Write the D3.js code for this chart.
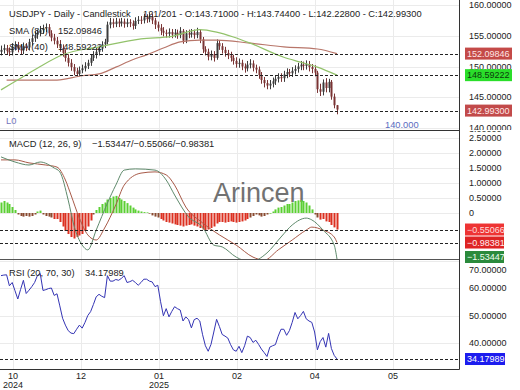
<!DOCTYPE html>
<html><head><meta charset="utf-8">
<script src="https://cdn.jsdelivr.net/npm/d3@7/dist/d3.min.js"></script>
<style>body{margin:0;background:#fff;}svg{display:block;font-family:"Liberation Sans",Arial,sans-serif;}</style>
</head><body><svg id="c" width="520" height="390"></svg>
<script>
// ---------- DATA ----------
const opens = [152.4,152.7,153.0,152.5,152.3,153.2,153.5,152.9,152.6,153.3,
153.1,154.0,154.6,155.1,155.5,155.9,156.2,156.4,155.4,154.7,
154.2,153.6,153.0,152.2,151.4,150.6,149.9,149.2,148.8,149.4,
149.7,150.1,150.6,151.4,151.9,152.4,152.9,153.6,154.0,156.8,
157.2,156.9,157.3,157.0,157.3,156.9,157.2,157.0,156.6,157.4,
157.6,157.5,158.0,157.7,158.1,157.5,156.8,156.3,155.8,155.5,
155.3,155.6,155.2,155.5,155.1,155.8,154.2,155.4,155.2,155.5,
155.1,155.6,154.4,152.8,152.4,151.6,152.0,151.4,153.8,153.3,
152.7,152.2,151.8,151.4,150.9,150.4,150.6,150.0,149.7,150.3,
150.5,149.8,149.5,148.6,147.8,147.3,146.9,147.2,147.6,148.0,
148.3,148.1,148.7,149.1,148.9,149.3,149.6,150.0,150.3,150.1,
150.4,149.9,149.6,149.0,146.3,145.9,147.4,146.5,147.5,145.1,
143.71];
const highs = [153.4,153.6,153.5,153.1,153.8,154.1,154.0,153.5,153.9,153.8,
154.5,155.2,155.7,156.0,156.6,156.8,157.0,156.9,155.9,155.3,
154.8,154.3,153.6,152.8,152.0,151.2,150.4,149.8,150.0,150.3,
150.7,151.1,151.9,152.5,153.0,153.4,154.1,154.5,157.3,157.9,
157.8,157.9,157.8,157.9,157.8,157.8,157.7,157.5,158.0,158.2,
158.2,158.6,158.5,158.8,158.6,157.9,157.3,156.9,156.4,156.0,
156.2,156.1,156.1,156.0,156.4,156.1,155.9,156.0,156.1,156.0,
156.3,156.0,154.8,153.3,152.9,152.6,152.5,154.4,154.3,153.8,
153.2,152.7,152.4,151.9,151.5,151.3,151.1,150.5,150.9,151.2,
151.0,150.3,150.0,149.1,148.3,147.8,147.8,148.2,148.6,148.9,
148.9,149.3,149.7,149.6,149.9,150.2,150.6,150.9,150.8,151.0,
150.9,150.4,150.2,149.3,147.2,147.9,148.1,148.0,147.8,145.6,
143.744];
const lows = [151.8,152.1,151.9,151.7,151.8,152.6,152.3,151.9,152.0,152.5,
152.6,153.4,154.0,154.5,154.9,155.3,155.6,154.9,154.1,153.6,
153.0,152.4,151.6,150.8,150.0,149.3,148.6,148.3,148.4,148.9,
149.2,149.6,150.1,150.9,151.3,151.8,152.4,153.0,153.6,156.2,
156.3,156.4,156.4,156.5,156.3,156.4,156.4,156.0,156.1,156.9,
156.9,157.0,157.1,157.2,156.9,156.1,155.7,155.1,154.9,154.7,
154.7,154.6,154.7,154.5,154.6,153.7,153.8,154.6,154.7,154.5,
154.6,153.8,152.2,151.8,151.0,151.0,150.8,151.1,152.7,152.1,
151.6,151.2,150.8,150.3,149.8,149.8,149.4,149.0,149.2,149.7,
149.2,148.9,148.0,147.2,146.6,146.3,146.3,146.6,147.0,147.4,
147.5,147.5,148.1,148.3,148.3,148.7,149.0,149.4,149.4,149.5,
149.2,148.9,148.4,145.7,145.2,145.3,145.8,145.8,144.6,143.2,
142.228];
const closes = [152.7,153.0,152.5,152.3,153.2,153.5,152.9,152.6,153.3,153.1,
154.0,154.6,155.1,155.5,155.9,156.2,156.4,155.4,154.7,154.2,
153.6,153.0,152.2,151.4,150.6,149.9,149.2,148.8,149.4,149.7,
150.1,150.6,151.4,151.9,152.4,152.9,153.6,154.0,156.8,157.2,
156.9,157.3,157.0,157.3,156.9,157.2,157.0,156.6,157.4,157.6,
157.5,158.0,157.7,158.1,157.5,156.8,156.3,155.8,155.5,155.3,
155.6,155.2,155.5,155.1,155.8,154.2,155.4,155.2,155.5,155.1,
155.6,154.4,152.8,152.4,151.6,152.0,151.4,153.8,153.3,152.7,
152.2,151.8,151.4,150.9,150.4,150.6,150.0,149.7,150.3,150.5,
149.8,149.5,148.6,147.8,147.3,146.9,147.2,147.6,148.0,148.3,
148.1,148.7,149.1,148.9,149.3,149.6,150.0,150.3,150.1,150.4,
149.9,149.6,149.0,146.3,145.9,147.4,146.5,147.5,145.1,143.7,
142.993];

const sma40Idx = [0,7,14,22,35,50,61,71,77,83,89,101,107,113,120];
const sma40Val = [146.2,148.1,150.0,151.9,153.2,154.5,154.9,156.0,155.6,154.8,153.8,151.5,150.7,149.9,148.59222];
const sma80Idx = [2,20,29,35,41,47,52,58,64,71,77,89,101,113,120];
const sma80Val = [147.8,147.8,148.5,148.8,149.9,151.1,151.9,153.0,154.0,154.3,154.3,153.8,153.2,152.85,152.09846];

const macdIdx = [0,5,10,14,19,21,24,26,29,31,34,38,41,44,48,55,59,62,67,72,76,79,84,89,95,100,104,109,111,115,119,120];
const macdVal = [1.87,1.70,1.60,1.70,1.50,1.37,0.43,-0.40,-1.07,-1.23,-0.57,0.33,0.93,1.43,1.47,1.43,1.10,0.60,-0.13,-0.47,-1.07,-1.13,-1.47,-1.63,-1.33,-0.80,-0.40,-0.17,-0.23,-0.57,-1.07,-1.53447];
const signalIdx = [0,5,10,16,20,23,25,28,31,34,37,41,44,50,55,59,62,66,72,78,84,90,94,99,104,109,111,115,119,120];
const signalVal = [1.77,1.77,1.67,1.60,1.53,1.10,0.60,-0.17,-0.73,-0.90,-0.50,0.27,0.93,1.33,1.37,1.27,0.93,0.20,-0.33,-0.73,-1.07,-1.47,-1.57,-1.23,-0.90,-0.57,-0.47,-0.57,-0.80,-0.98381];
const histVal = [0.35,0.4,0.35,0.3,0.2,0.1,-0.05,-0.1,-0.12,-0.1,
-0.12,-0.1,-0.05,0.05,0.08,-0.05,-0.1,-0.12,-0.15,-0.2,
-0.2,-0.3,-0.45,-0.6,-0.7,-0.8,-0.85,-0.8,-0.75,-0.7,
-0.6,-0.45,-0.25,-0.05,0.1,0.2,0.3,0.35,0.45,0.5,
0.55,0.57,0.5,0.45,0.4,0.33,0.25,0.18,0.12,0.08,
0.05,0.03,0.02,-0.02,-0.08,-0.12,-0.15,-0.2,-0.25,-0.3,
-0.32,-0.35,-0.38,-0.4,-0.42,-0.45,-0.42,-0.4,-0.38,-0.42,
-0.45,-0.5,-0.55,-0.58,-0.55,-0.5,-0.45,-0.35,-0.3,-0.3,
-0.32,-0.3,-0.28,-0.3,-0.32,-0.3,-0.28,-0.25,-0.2,-0.15,
-0.1,-0.05,-0.08,-0.12,-0.1,-0.05,0.0,0.05,0.12,0.18,
0.2,0.25,0.3,0.3,0.35,0.4,0.42,0.43,0.4,0.35,
0.25,0.12,-0.05,-0.15,-0.22,-0.2,-0.28,-0.3,-0.4,-0.48,
-0.55066];

const rsiVal = [64.5,64.7,64.8,60.8,62.0,59.0,56.0,59.5,62.8,58.0,
59.2,60.5,62.0,64.5,65.3,59.1,59.4,59.8,60.0,57.3,
57.9,53.5,49.0,46.5,44.5,43.6,43.4,45.0,46.5,45.4,
47.5,50.0,51.4,54.0,56.8,57.7,57.0,56.5,64.5,62.5,
62.5,63.1,62.8,63.5,64.5,62.0,62.3,62.8,62.0,61.0,
62.0,63.2,63.2,62.5,62.2,60.5,61.0,55.0,49.9,52.5,
49.5,51.5,53.2,52.5,52.0,48.0,49.5,48.5,45.5,48.5,
49.0,48.0,43.0,39.0,37.0,39.5,44.0,48.6,46.0,43.1,
42.5,41.8,39.4,37.5,37.0,38.8,36.5,39.0,42.5,42.0,
40.2,41.0,39.5,37.8,36.5,35.1,38.5,39.0,39.4,42.5,
45.0,45.0,42.8,44.5,47.5,51.1,48.8,50.0,51.5,48.8,
48.0,47.5,44.0,37.5,40.5,42.0,38.5,43.5,38.0,35.5,
34.17989];

const priceTicks = [140,145,150,155,160];
const macdTicks = [0,0.5,1,1.5,2,2.5,3];
const rsiTicks = [40,50,60,70];
const timeTickIdx = [4.3,28.6,56.4,84.3,112.1,140];
const timeTickMonth = ["10","12","01","02","04","05"];
const timeTickYear = ["2024","","2025","","",""];

// ---------- DRAW ----------
const svg = d3.select('#c');
const R = 459, BOT = 369;
const P = {main:[0,130], macd:[130,259], rsi:[259,369]};
const FONT = 9.3;

const defs = svg.append('defs');
Object.entries(P).forEach(([k,[t,b]])=>{
  defs.append('clipPath').attr('id','clip-'+k).append('rect')
    .attr('x',0).attr('y',t).attr('width',R).attr('height',b-t);
});
defs.append('clipPath').attr('id','clip-ax-macd').append('rect').attr('x',460).attr('y',131).attr('width',60).attr('height',128);
defs.append('clipPath').attr('id','clip-ax-main').append('rect').attr('x',460).attr('y',0).attr('width',60).attr('height',130);

const x = d3.scaleLinear().domain([0,120]).range([1,337]);
const yP = d3.scaleLinear().domain([140,160]).range([128,5]);
const yM = d3.scaleLinear().domain([0,2]).range([213,153]);
const yR = d3.scaleLinear().domain([40,60]).range([343,288]);

const grid = svg.append('g').attr('stroke','#ebebeb').attr('stroke-width',1);
timeTickIdx.forEach(t=>{
  grid.append('line').attr('x1',Math.round(x(t))+0.5).attr('x2',Math.round(x(t))+0.5).attr('y1',0).attr('y2',BOT);
});
function hgrid(ticks, y, key){
  const [t,b] = P[key];
  ticks.forEach(v=>{
    const yy = y(v);
    if (yy>t+1 && yy<b-1) grid.append('line').attr('x1',0).attr('x2',R).attr('y1',Math.round(yy)+0.5).attr('y2',Math.round(yy)+0.5);
  });
}
hgrid(priceTicks,yP,'main'); hgrid(macdTicks,yM,'macd'); hgrid(rsiTicks,yR,'rsi');

// watermark
svg.append('text').attr('x',213).attr('y',202).attr('font-size',27).attr('fill','#5a5a5a').attr('opacity',0.85).text('Arincen');

// main panel
const gMain = svg.append('g').attr('clip-path','url(#clip-main)');
const bars = d3.range(closes.length);
bars.forEach(i=>{
  const up = closes[i]>=opens[i];
  const col = up ? '#3c3c3c' : '#7a3434';
  const cx = Math.round(x(i))+0.5;
  gMain.append('line').attr('x1',cx).attr('x2',cx).attr('y1',yP(highs[i])).attr('y2',yP(lows[i])).attr('stroke',col).attr('stroke-width',1);
  const y0 = yP(Math.max(opens[i],closes[i])), y1 = yP(Math.min(opens[i],closes[i]));
  gMain.append('rect').attr('x',cx-1).attr('width',2).attr('y',y0).attr('height',Math.max(1,y1-y0)).attr('fill',col);
});
const lineP = d3.line().x(d=>x(d[0])).y(d=>yP(d[1])).curve(d3.curveMonotoneX);
gMain.append('path').attr('d',lineP(sma80Idx.map((d,i)=>[d,sma80Val[i]]))).attr('fill','none').attr('stroke','#b8766a').attr('stroke-width',1.2);
gMain.append('path').attr('d',lineP(sma40Idx.map((d,i)=>[d,sma40Val[i]]))).attr('fill','none').attr('stroke','#92c26a').attr('stroke-width',1.2);

// macd panel
const gM = svg.append('g').attr('clip-path','url(#clip-macd)');
histVal.forEach((v,i)=>{
  const cx = Math.round(x(i))+0.5;
  const a = yM(0), b = yM(v);
  gM.append('rect').attr('x',cx-1).attr('width',2).attr('y',Math.min(a,b)).attr('height',Math.max(0.6,Math.abs(b-a)))
    .attr('fill', v>=0 ? '#5ccf34' : (Math.abs(v)<0.16 ? '#8a4a30' : '#dc3020'));
});
const lineM = d3.line().x(d=>x(d[0])).y(d=>yM(d[1])).curve(d3.curveMonotoneX);
gM.append('path').attr('d',lineM(signalIdx.map((d,i)=>[d,signalVal[i]]))).attr('fill','none').attr('stroke','#a85a48').attr('stroke-width',1);
gM.append('path').attr('d',lineM(macdIdx.map((d,i)=>[d,macdVal[i]]))).attr('fill','none').attr('stroke','#5f8a6c').attr('stroke-width',1);

// rsi panel
const gR = svg.append('g').attr('clip-path','url(#clip-rsi)');
const lineR = d3.line().x((d,i)=>x(i)).y(d=>yR(d));
gR.append('path').attr('d',lineR(rsiVal)).attr('fill','none').attr('stroke','#3434b4').attr('stroke-width',1);

// dashed level lines
const dash = svg.append('g').attr('stroke','#222').attr('stroke-dasharray','3,2').attr('stroke-width',1);
function dl(yy){ dash.append('line').attr('x1',0).attr('x2',R).attr('y1',Math.round(yy)+0.5).attr('y2',Math.round(yy)+0.5); }
const lastSma80 = sma80Val[sma80Val.length-1], lastSma40 = sma40Val[sma40Val.length-1], lastClose = closes[closes.length-1];
const lastMacd = macdVal[macdVal.length-1], lastSig = signalVal[signalVal.length-1], lastHist = histVal[histVal.length-1];
const lastRsi = rsiVal[rsiVal.length-1];
dl(yP(lastSma80)); dl(yP(lastSma40)); dl(yP(lastClose)+1);
dl(yM(lastHist)); dl(yM(lastSig));
dl(yR(lastRsi));

// frame
const fr = svg.append('g').attr('stroke','#333').attr('stroke-width',1);
fr.append('line').attr('x1',0).attr('x2',R).attr('y1',130.5).attr('y2',130.5);
fr.append('line').attr('x1',0).attr('x2',R).attr('y1',259.5).attr('y2',259.5).attr('stroke','#555');
fr.append('line').attr('x1',0).attr('x2',R+0.5).attr('y1',BOT+0.5).attr('y2',BOT+0.5);
fr.append('line').attr('x1',R+0.5).attr('x2',R+0.5).attr('y1',0).attr('y2',BOT+0.5);

// right axis labels
const f5 = d3.format('.5f');
function axLabels(ticks,y,fmt,minY,clip){
  const g = svg.append('g').attr('font-size',9).attr('fill','#222');
  if (clip) g.attr('clip-path','url(#'+clip+')');
  ticks.forEach(v=>{
    let yy = y(v); if (minY!==null) yy = Math.max(minY,yy);
    g.append('text').attr('x',469).attr('y',yy).attr('dy','0.35em').text(fmt(v));
  });
}
axLabels(priceTicks,yP,f5,3,'clip-ax-main');
axLabels(macdTicks,yM,v=>v===0?'0':f5(v),129,'clip-ax-macd');
axLabels(rsiTicks,yR,f5,270,null);

// value boxes
function box(yy,txt,fill,tc,w){
  svg.append('rect').attr('x',465).attr('y',yy-6).attr('width',w).attr('height',12).attr('fill',fill);
  svg.append('text').attr('x',467).attr('y',yy).attr('dy','0.35em').attr('font-size',9).attr('fill',tc).text(txt);
}
box(yP(lastSma80),f5(lastSma80),'#c44a48','#ffe4e4',47);
box(yP(lastSma40),f5(lastSma40),'#2ade2a','#0c3a0c',47);
box(yP(lastClose)+1,f5(lastClose),'#c24a4a','#ffe8e8',47);
box(yM(lastHist),f5(lastHist),'#ee3434','#ffdede',39);
box(yM(lastSig),f5(lastSig),'#de2424','#ffeeee',39);
box(Math.min(257,yM(lastMacd)),f5(lastMacd),'#2b8a3c','#f0fff0',39);
box(yR(lastRsi),f5(lastRsi),'#1c1cee','#ffffff',40);

// x axis labels
const xa = svg.append('g').attr('font-size',9).attr('fill','#222').attr('text-anchor','middle');
timeTickIdx.forEach((t,i)=>{
  xa.append('text').attr('x',x(t)).attr('y',379).text(timeTickMonth[i]);
  if (timeTickYear[i]) xa.append('text').attr('x',x(t)).attr('y',388).text(timeTickYear[i]);
});

// legends
const lg = svg.append('g').attr('font-size',FONT).attr('fill','#222');
lg.append('text').attr('x',9).attr('y',16.5).text('USDJPY - Daily - Candlestick');
lg.append('text').attr('x',143).attr('y',16.5).text('121/201 - O:'+f5(opens[120])+' - H:'+f5(highs[120])+' - L:'+f5(lows[120])+' - C:'+f5(lastClose));
lg.append('text').attr('x',9).attr('y',33.5).text('SMA (80)');
lg.append('text').attr('x',58).attr('y',33.5).text(f5(lastSma80));
lg.append('text').attr('x',9).attr('y',50).text('SMA (40)');
lg.append('text').attr('x',58).attr('y',50).text(f5(lastSma40));
lg.append('text').attr('x',9).attr('y',146.5).text('MACD (12, 26, 9)');
lg.append('text').attr('x',92).attr('y',146.5).text(f5(lastMacd)+'/'+f5(lastHist)+'/'+f5(lastSig));
lg.append('text').attr('x',9).attr('y',276).text('RSI (20, 70, 30)');
lg.append('text').attr('x',85).attr('y',276).text(f5(lastRsi));
svg.append('text').attr('x',6).attr('y',124).attr('font-size',FONT).attr('fill','#7474bc').text('L0');
svg.append('text').attr('x',385).attr('y',128).attr('font-size',FONT).attr('fill','#5a6cc0').text(d3.format('.3f')(140));
</script></body></html>
